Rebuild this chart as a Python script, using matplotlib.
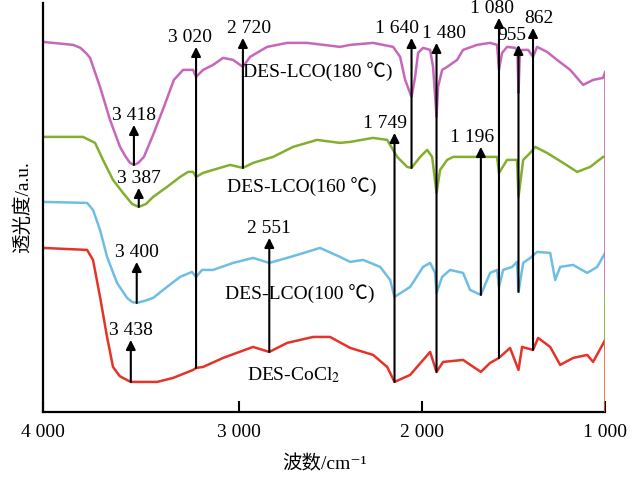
import numpy as np
import matplotlib
matplotlib.use("Agg")
import matplotlib.pyplot as plt

plt.rcParams['font.family'] = ['Liberation Serif', 'Noto Sans CJK SC', 'DejaVu Sans']
plt.rcParams['mathtext.fontset'] = 'stix'

# spectra (wavenumber cm-1, transmittance a.u. with offsets)
wn_180 = [4000, 3808, 3760, 3720, 3699, 3635, 3571, 3507, 3470, 3443, 3418, 3390, 3354, 3290, 3226,
          3162, 3103, 3039, 3020, 2975, 2911, 2847, 2783, 2720, 2674, 2565, 2437, 2309, 2098, 2033,
          1886, 1758, 1713, 1681, 1640, 1617, 1598, 1566, 1521, 1502, 1480, 1470, 1444, 1412, 1348,
          1310, 1220, 1137, 1092, 1080, 1060, 1028, 977, 962, 955, 946, 932, 893, 862, 836, 772,
          708, 624, 541, 477, 413, 400]
t_180 = [370, 367, 364, 358, 354, 325, 292, 265, 255, 249, 247, 249, 255, 279, 305,
         332, 342, 342, 335, 342, 347, 354, 352, 345, 355, 365, 369, 369, 365, 367,
         369, 365, 355, 332, 315, 335, 359, 364, 362, 345, 295, 325, 342, 345, 352,
         362, 367, 369, 367, 342, 359, 365, 364, 362, 319, 360, 362, 362, 355, 365, 360,
         352, 342, 327, 332, 334, 340]

wn_160 = [4000, 3744, 3667, 3616, 3552, 3488, 3430, 3387, 3340, 3295, 3206, 3122, 3071, 3039, 3020,
          2975, 2911, 2802, 2720, 2655, 2527, 2399, 2245, 2098, 2033, 1886, 1796, 1732, 1668, 1640,
          1585, 1540, 1508, 1480, 1457, 1412, 1374, 1265, 1182, 1092, 1080, 1028, 964, 955, 925,
          880, 848, 772, 669, 579, 496, 413, 400]
t_160 = [275, 275, 269, 252, 232, 219, 208, 205, 208, 215, 225, 235, 240, 240, 235,
         239, 242, 247, 244, 249, 255, 265, 272, 269, 270, 274, 272, 255, 245, 244,
         255, 262, 255, 219, 242, 252, 255, 255, 255, 255, 239, 252, 252, 215, 252,
         259, 265, 259, 249, 240, 245, 255, 255]

wn_100 = [4000, 3718, 3680, 3635, 3590, 3526, 3462, 3430, 3400, 3350, 3295, 3206, 3122, 3046, 3020,
          2982, 2911, 2783, 2655, 2551, 2437, 2309, 2226, 2098, 2033, 1950, 1841, 1777, 1749, 1649,
          1566, 1521, 1489, 1480, 1444, 1393, 1310, 1265, 1196, 1137, 1092, 1080, 1053, 996, 964,
          955, 925, 880, 836, 752, 720, 688, 605, 515, 451, 400]
t_100 = [210, 209, 202, 182, 155, 129, 114, 110, 109, 111, 114, 125, 135, 140, 135,
         142, 142, 149, 154, 149, 154, 160, 164, 155, 150, 152, 145, 132, 115, 125,
         145, 149, 139, 119, 135, 142, 139, 122, 117, 139, 142, 125, 142, 145, 150,
         120, 149, 154, 160, 159, 132, 145, 147, 139, 145, 159]

wn_cocl = [4000, 3718, 3680, 3635, 3590, 3552, 3510, 3488, 3438, 3270, 3167, 3039, 3020, 2975, 2847,
           2655, 2551, 2437, 2270, 2162, 2033, 1886, 1796, 1749, 1649, 1521, 1480, 1438, 1310, 1196,
           1137, 1080, 1009, 955, 932, 862, 829, 752, 688, 605, 515, 477, 400]
t_cocl = [164, 162, 152, 115, 75, 45, 36, 34, 30, 30, 34, 42, 44, 45, 54,
          65, 60, 69, 75, 75, 64, 57, 45, 30, 37, 60, 40, 50, 52, 40,
          49, 54, 64, 42, 65, 62, 74, 65, 47, 54, 57, 50, 72]

# labelled peaks: wavenumber, text, curve the arrow starts on
peak_wn = [3418, 3387, 3400, 3438, 3020, 2720, 2551, 1749, 1640, 1480, 1196, 1080, 955, 862]
peak_txt = ['3 418', '3 387', '3 400', '3 438', '3 020', '2 720', '2 551', '1 749', '1 640',
            '1 480', '1 196', '1 080', '955', '862']
peak_src = ['180', '160', '100', 'cocl', 'cocl', '160', 'cocl', 'cocl', '160', 'cocl', '100',
            'cocl', '100', 'cocl']

series_names = ['DES-LCO(180 ℃)', 'DES-LCO(160 ℃)', 'DES-LCO(100 ℃)', 'DES-CoCl$_2$']
tick_txt = ['4 000', '3 000', '2 000', '1 000']

# layout (arrow head heights, label offsets in wavenumber)
head_y = [287, 224, 150, 72, 365, 374, 174, 279, 374, 369, 265, 394, 367, 384]
label_dx = [0, 0, 0, 0, 38, -38, 0, 64, 90, -51, 58, 45, 45, -38]
tick_pos = [4000, 2745, 1572, 400]

curves = {
    '180': (wn_180, t_180, '#C667B9'),
    '160': (wn_160, t_160, '#84AE2E'),
    '100': (wn_100, t_100, '#6EBEE4'),
    'cocl': (wn_cocl, t_cocl, '#E5332A'),
}

fig = plt.figure(figsize=(6.33, 4.79), dpi=100)
ax = fig.add_axes([0.068, 0.140, 0.888, 0.854])

for key in ['cocl', '100', '160', '180']:
    x, y, c = curves[key]
    ax.plot(x, y, color=c, lw=1.8, zorder=2)

# right-end drops
ax.vlines(400, 119, t_180[-1], color=curves['180'][2], lw=1.2, zorder=3)
ax.vlines(400, 63, 119, color=curves['160'][2], lw=1.2, zorder=3)
ax.vlines(400, 0, t_cocl[-1], color='#F0603A', lw=1.2, zorder=3)

for w, txt, src, hy, dx in zip(peak_wn, peak_txt, peak_src, head_y, label_dx):
    x, y, c = curves[src]
    tail = np.interp(w, x[::-1], y[::-1])
    ax.annotate('', xy=(w, hy), xytext=(w, tail),
                arrowprops=dict(arrowstyle='-|>', color='black', lw=1.5,
                                mutation_scale=14, shrinkA=0, shrinkB=0), zorder=5)
    ax.text(w + dx, hy + 1, txt, ha='center', va='bottom', fontsize=14, zorder=6)

name_x = [2719, 2821, 2834, 2693]
name_y = [339, 224, 117, 37]
for name, nx, ny in zip(series_names, name_x, name_y):
    ax.text(nx, ny, name, ha='left', va='center', fontsize=14, zorder=6)

ax.set_xlim(4000, 400)
ax.set_ylim(0, 409)
ax.set_xticks(tick_pos)
ax.set_xticklabels(tick_txt, fontsize=14)
ax.set_yticks([])
ax.tick_params(axis='x', direction='in', length=8, width=1.5, pad=9)
ax.spines['top'].set_visible(False)
ax.spines['right'].set_visible(False)
for s in ['left', 'bottom']:
    ax.spines[s].set_linewidth(1.6)

ax.set_xlabel('波数/cm⁻¹', fontsize=14, labelpad=10)
ax.set_ylabel('透光度/a.u.', fontsize=14, labelpad=8)

fig.savefig('out.png', dpi=100)
